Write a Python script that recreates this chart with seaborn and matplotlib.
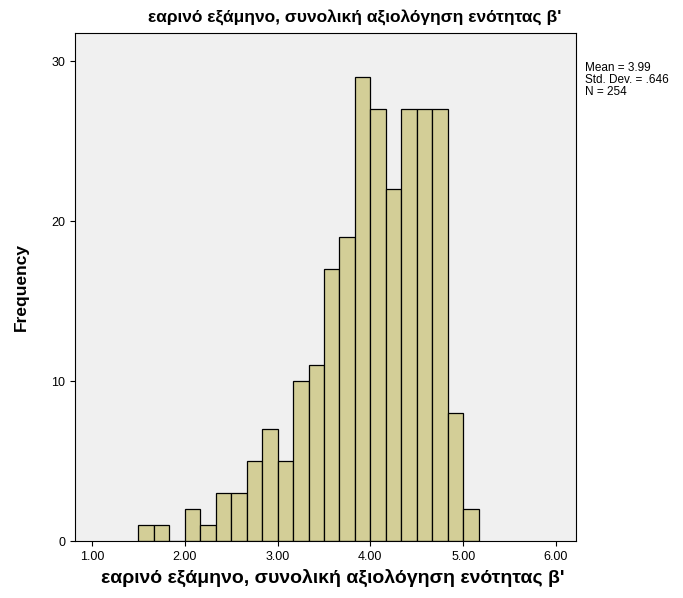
import numpy as np
import pandas as pd
import matplotlib
matplotlib.use('Agg')
import matplotlib.pyplot as plt
import seaborn as sns

# bin centres (width 1/6, starting at 1.5) and frequencies
bin_start = 1.5
bin_width = 1 / 6
counts = [1, 1, 0, 2, 1, 3, 3, 5, 7, 5, 10, 11, 17, 19, 29, 27, 22, 27, 27, 27, 8, 2]
centres = bin_start + bin_width * (np.arange(len(counts)) + 0.5)
xticks = [1.0, 2.0, 3.0, 4.0, 5.0, 6.0]
title = "εαρινό εξάμηνο, συνολική αξιολόγηση ενότητας β'"

df = pd.DataFrame({'x': centres, 'n': counts})

sns.set_style('ticks')
plt.rcParams['font.family'] = ['Liberation Sans', 'DejaVu Sans']
plt.rcParams['text.color'] = 'black'
plt.rcParams['axes.labelcolor'] = 'black'
plt.rcParams['xtick.color'] = 'black'
plt.rcParams['ytick.color'] = 'black'

fig = plt.figure(figsize=(6.83, 5.98), dpi=100)
ax = fig.add_axes([75 / 683, 1 - 541 / 598, 501 / 683, 508 / 598])
ax.set_facecolor('#F0F0F0')
sns.histplot(data=df, x='x', weights='n', binwidth=bin_width,
             binrange=(bin_start, bin_start + bin_width * len(counts)),
             color='#D3CE97', alpha=1, edgecolor='black', linewidth=0.9, ax=ax)
ax.set_xlim(0.817, 6.216)
ax.set_ylim(0, 31.75)
ax.set_xticks(xticks)
ax.set_xticklabels([f'{t:.2f}' for t in xticks], fontsize=9)
ax.set_yticks([0, 10, 20, 30])
ax.tick_params(labelsize=9)
for s in ax.spines.values():
    s.set_color('black')
    s.set_linewidth(0.8)
ax.set_xlabel('')
ax.set_ylabel('Frequency', fontsize=12.5, fontweight='bold', labelpad=16)
fig.text(355 / 683, 1 - 18 / 598, title, fontsize=12.5, fontweight='bold',
         ha='center', va='center')
fig.text(333 / 683, 1 - 578 / 598, title, fontsize=14, fontweight='bold',
         ha='center', va='center')
fig.text(585 / 683, 1 - 62 / 598, 'Mean = 3.99\nStd. Dev. = .646\nN = 254',
         fontsize=8.5, va='top', linespacing=1.0)
fig.savefig('out.png')
